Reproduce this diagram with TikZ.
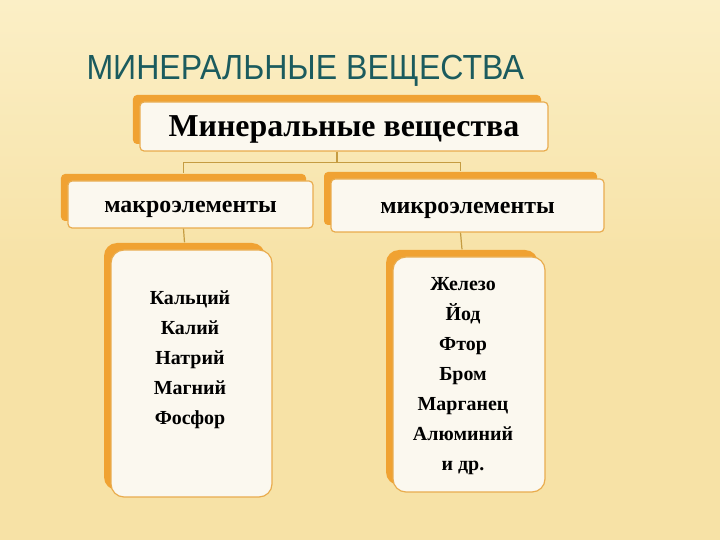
\documentclass[tikz,border=0pt]{standalone}
\usepackage{fontspec}
\setmainfont{Liberation Serif}
\newfontfamily\titrefont[FakeStretch=0.92]{Liberation Sans}
\usepackage{xcolor}
\usepackage{tikz}
\usetikzlibrary{shadows}
\definecolor{fond}{HTML}{FBEFC6}
\definecolor{fondmil}{HTML}{F7E2A6}
\definecolor{orangefort}{HTML}{F0A232}
\definecolor{bordcarte}{HTML}{E9AC4E}
\definecolor{blanccarte}{HTML}{FBF8EF}
\definecolor{lien}{HTML}{C59C42}
\definecolor{titrecol}{HTML}{1B5B5E}
\tikzset{
  carte/.style = {draw=bordcarte, fill=blanccarte, line width=1.2bp, inner sep=0pt,
    copy shadow={shadow xshift=-7bp, shadow yshift=7bp, fill=orangefort, draw=none}},
  tete/.style = {carte, rounded corners=4bp, font=\bfseries\fontsize{24}{28}\selectfont,
    text height=18bp, text depth=1bp},
  grandtete/.style = {tete, font=\bfseries\fontsize{32}{36}\selectfont,
    text height=22bp, text depth=1bp},
  liste/.style = {carte, rounded corners=13bp},
  mots/.style = {align=center, font=\bfseries\fontsize{20}{30}\selectfont},
  lien/.style = {draw=lien, line width=1.2bp}
}
\begin{document}
\begin{tikzpicture}[x=1bp,y=-1bp]
\shade[top color=fond, bottom color=fondmil, middle color=fondmil] (0,0) rectangle (720,540);
\useasboundingbox (0,0) rectangle (720,540);
\node [anchor=base west, text=titrecol, font=\titrefont\fontsize{35}{38}\selectfont] (titre) at (83,80) {МИНЕРАЛЬНЫЕ ВЕЩЕСТВА};
% les cartes
\node [grandtete, minimum width=408bp, minimum height=49bp] (mineraux) at (344,126.5) {Минеральные вещества};
\node [tete, minimum width=245bp, minimum height=47bp] (macro) at (190.5,204.5) {макроэлементы};
\node [tete, minimum width=273bp, minimum height=53bp] (micro) at (467.5,205.5) {микроэлементы};
\node [liste, minimum width=161bp, minimum height=247bp] (gauche) at (191.5,373.5) {};
\node [liste, minimum width=152bp, minimum height=235bp] (droite) at (469,374.5) {};
\node [mots] (macroliste) at (190,360) {Кальций\\Калий\\Натрий\\Магний\\Фосфор};
\node [mots] (microliste) at (463,376) {Железо\\Йод\\Фтор\\Бром\\Марганец\\Алюминий\\и др.};
% les liens
\draw [lien] ([xshift=-7bp]mineraux.south) -- ++(0,11) coordinate (noeud)
  -| ([xshift=-7bp,yshift=7bp]macro.north);
\draw [lien] (noeud) -| ([xshift=-7bp,yshift=7bp]micro.north);
\draw [lien] ([xshift=-7bp]macro.south) -- ([xshift=-7bp,yshift=7bp]gauche.north);
\draw [lien] ([xshift=-7bp]micro.south) -- ([xshift=-7bp,yshift=7bp]droite.north);
\end{tikzpicture}
\end{document}
